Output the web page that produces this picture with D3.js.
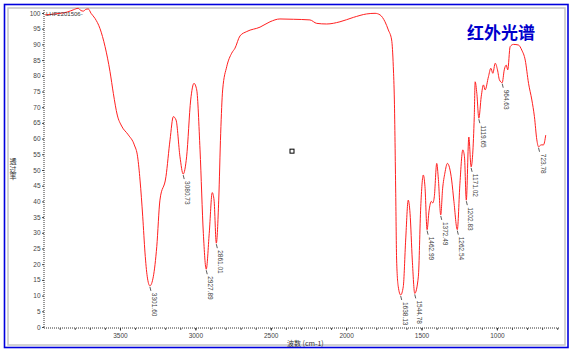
<!DOCTYPE html>
<html>
<head>
<meta charset="utf-8">
<script src="https://cdn.jsdelivr.net/npm/d3@7"></script>
<style>
  body { margin: 0; background: #fff; }
  svg { display: block; }
  text { font-family: "Liberation Sans", Arial, sans-serif; }
</style>
</head>
<body>
<svg id="chart"></svg>
<script>
// spectrum (cm-1, % transmittance)
const wavenumbers = [
  3997, 3950, 3898, 3850, 3810, 3777, 3760, 3743, 3725, 3710, 3692, 3666, 3633, 3599, 3566,
  3544, 3518, 3489, 3445, 3405, 3383, 3367, 3349, 3334, 3319, 3301.6, 3279, 3256, 3235, 3195,
  3168, 3146, 3128, 3102, 3080.73, 3058, 3031, 3009, 2991, 2969, 2947, 2927.89, 2908, 2888, 2876,
  2861.01, 2845, 2832, 2819, 2792, 2759, 2737, 2704, 2659, 2571, 2505, 2439, 2350, 2240, 2195,
  2129, 2041, 1952, 1864, 1808, 1775, 1742, 1720, 1698, 1687, 1680, 1671, 1665, 1654, 1638.13,
  1621, 1605, 1588, 1576, 1561, 1544.78, 1521, 1505, 1488, 1477, 1462.99, 1450, 1435, 1425, 1415,
  1399, 1388, 1372.49, 1360, 1345, 1328, 1300, 1285, 1262.54, 1245, 1226, 1215, 1202.83, 1186, 1171.02,
  1150, 1144, 1133, 1119.65, 1104, 1089, 1078, 1056, 1040, 1027, 1011, 996, 983, 964.63, 951,
  938, 928, 912, 890, 857, 835, 812, 790, 768, 751, 735, 723.78, 706, 691, 676
];
const transmittance = [
  99.4, 99.6, 99.9, 100.3, 101.0, 101.5, 100.8, 100.6, 101.2, 101.3, 99.9, 98.3, 95.1, 89.3, 81.3,
  74.4, 67.5, 64.0, 61.2, 58.0, 54.2, 46.8, 35.1, 23.6, 16.0, 13.1, 16.0, 25.6, 40.4, 47.9,
  59.6, 67.0, 65.9, 54.2, 48.7, 54.2, 72.3, 77.6, 75.5, 56.4, 29.8, 18.4, 29.8, 42.8, 40.4,
  26.7, 40.4, 61.7, 75.5, 82.9, 87.2, 88.8, 92.7, 94.1, 95.5, 97.2, 98.1, 98.0, 97.8, 96.7,
  96.5, 97.2, 98.6, 99.7, 99.9, 99.4, 97.2, 94.6, 91.4, 82.9, 72.3, 42.6, 21.3, 12.8, 10.2,
  12.8, 27.7, 40.4, 36.2, 21.3, 10.7, 16.0, 38.3, 48.4, 44.7, 31.0, 37.0, 40.0, 39.5, 41.5,
  52.1, 47.0, 35.7, 44.0, 49.0, 52.1, 46.8, 40.0, 31.0, 45.8, 56.4, 54.2, 40.4, 60.5, 51.0,
  67.0, 78.1, 74.4, 66.5, 73.3, 77.1, 75.5, 79.7, 82.4, 80.8, 84.0, 81.9, 78.7, 77.8, 81.9,
  83.4, 81.9, 89.3, 90.0, 89.8, 88.2, 85.0, 77.6, 72.3, 67.0, 59.6, 57.4, 58.0, 58.0, 61.1
];

// labelled peaks
const peakWavenumbers = [3301.6, 3080.73, 2927.89, 2861.01, 1638.13, 1544.78, 1462.99,
  1372.49, 1262.54, 1202.83, 1171.02, 1119.65, 964.63, 723.78];
const peakLabels = ["3301.60", "3080.73", "2927.89", "2861.01", "1638.13", "1544.78", "1462.99",
  "1372.49", "1262.54", "1202.83", "1171.02", "1119.65", "964.63", "723.78"];

const yTickValues = [0, 5, 10, 15, 20, 25, 30, 35, 40, 45, 50, 55, 60, 65, 70, 75, 80, 85, 90, 95, 100];
const xTickValues = [3500, 3000, 2500, 2000, 1500, 1000];

// cursor marker
const markerPoint = [2359, 56];

const width = 575;
const height = 353;

const svg = d3.select("#chart").attr("width", width).attr("height", height);

// frames
svg.append("rect")
  .attr("x", 4.5).attr("y", 4.5)
  .attr("width", 563.5).attr("height", 343)
  .attr("fill", "#fff")
  .attr("stroke", "#0000dd")
  .attr("stroke-width", 1.6);

svg.append("rect")
  .attr("x", 8).attr("y", 8)
  .attr("width", 557).attr("height", 337)
  .attr("fill", "none")
  .attr("stroke", "#c4c4c4")
  .attr("stroke-width", 1.5);

// scales
const xScale = d3.scaleLinear().domain([4000, 580]).range([44.6, 560.2]);
const yScale = d3.scaleLinear().domain([0, 100]).range([327, 13]);

// y axis
const yAxisG = svg.append("g")
  .attr("transform", "translate(44,0)")
  .call(d3.axisLeft(yScale).tickValues(yTickValues).tickSize(2).tickPadding(1.5).tickSizeOuter(0));
yAxisG.select(".domain").remove();
yAxisG.selectAll(".tick line").attr("stroke", "#444");
yAxisG.selectAll(".tick text")
  .attr("fill", "#444")
  .style("font-size", "6.5px");

svg.append("line")
  .attr("x1", 44).attr("x2", 44)
  .attr("y1", 10).attr("y2", 328)
  .attr("stroke", "#333")
  .attr("stroke-dasharray", "1,1");

// x axis
const minorTicks = d3.range(600, 4000, 100);
const xAxisG = svg.append("g")
  .attr("transform", "translate(0,328)")
  .call(d3.axisBottom(xScale).tickValues(minorTicks).tickSize(2).tickFormat("").tickSizeOuter(0));
xAxisG.select(".domain").remove();
xAxisG.selectAll(".tick line").attr("stroke", "#555");

const xLabelG = svg.append("g")
  .attr("transform", "translate(0,328)")
  .call(d3.axisBottom(xScale).tickValues(xTickValues).tickFormat(d3.format("d"))
    .tickSize(2.5).tickPadding(3).tickSizeOuter(0));
xLabelG.select(".domain").remove();
xLabelG.selectAll(".tick line").attr("stroke", "#333");
xLabelG.selectAll(".tick text")
  .attr("fill", "#444")
  .style("font-size", "6.5px");

svg.append("line")
  .attr("x1", 44).attr("x2", 560)
  .attr("y1", 328).attr("y2", 328)
  .attr("stroke", "#333")
  .attr("stroke-dasharray", "1,1");

// axis titles
svg.append("text")
  .attr("x", 287).attr("y", 345.5)
  .attr("fill", "#333")
  .style("font-size", "7px")
  .style("font-family", "'Noto Sans CJK SC', sans-serif")
  .text("波数 (cm-1)");

svg.append("text")
  .attr("x", 13).attr("y", 158)
  .attr("fill", "#333")
  .style("font-size", "7px")
  .style("writing-mode", "vertical-rl")
  .style("letter-spacing", "0.5px")
  .style("font-family", "'Noto Sans CJK SC', sans-serif")
  .text("透过率");

// spectrum
const spectrum = wavenumbers.map((w, i) => ({ w: w, t: transmittance[i] }));
const line = d3.line()
  .x((d) => xScale(d.w))
  .y((d) => yScale(d.t))
  .curve(d3.curveMonotoneX);

svg.append("path")
  .datum(spectrum)
  .attr("fill", "none")
  .attr("stroke", "#ff2020")
  .attr("stroke-width", 1)
  .attr("d", line);

// peak labels
const peaks = peakWavenumbers.map((w, i) => ({
  w: w,
  t: transmittance[wavenumbers.indexOf(w)],
  label: peakLabels[i]
}));

const peakG = svg.append("g");
peakG.selectAll("line")
  .data(peaks)
  .enter()
  .append("line")
  .attr("x1", (d) => xScale(d.w))
  .attr("y1", (d) => yScale(d.t) + 1)
  .attr("x2", (d) => xScale(d.w) + 1)
  .attr("y2", (d) => yScale(d.t) + 5)
  .attr("stroke", "#333")
  .attr("stroke-width", 0.8);

peakG.selectAll("text")
  .data(peaks)
  .enter()
  .append("text")
  .attr("transform", (d) => `translate(${xScale(d.w) + 2},${yScale(d.t) + 7}) rotate(90)`)
  .attr("fill", "#444")
  .style("font-size", "6.5px")
  .text((d) => d.label);

// sample name
svg.append("text")
  .attr("x", 46).attr("y", 16)
  .attr("fill", "#333")
  .style("font-size", "6px")
  .text("LHF2201506-");

// cursor marker
svg.append("rect")
  .attr("x", xScale(markerPoint[0]) - 2)
  .attr("y", yScale(markerPoint[1]) - 2)
  .attr("width", 4).attr("height", 4)
  .attr("fill", "none")
  .attr("stroke", "#000")
  .attr("stroke-width", 1);

// title
svg.append("text")
  .attr("x", 467).attr("y", 39)
  .attr("fill", "#0000cc")
  .style("font-size", "17px")
  .style("font-weight", "bold")
  .style("font-family", "'Noto Sans CJK SC', sans-serif")
  .text("红外光谱");
</script>
</body>
</html>
